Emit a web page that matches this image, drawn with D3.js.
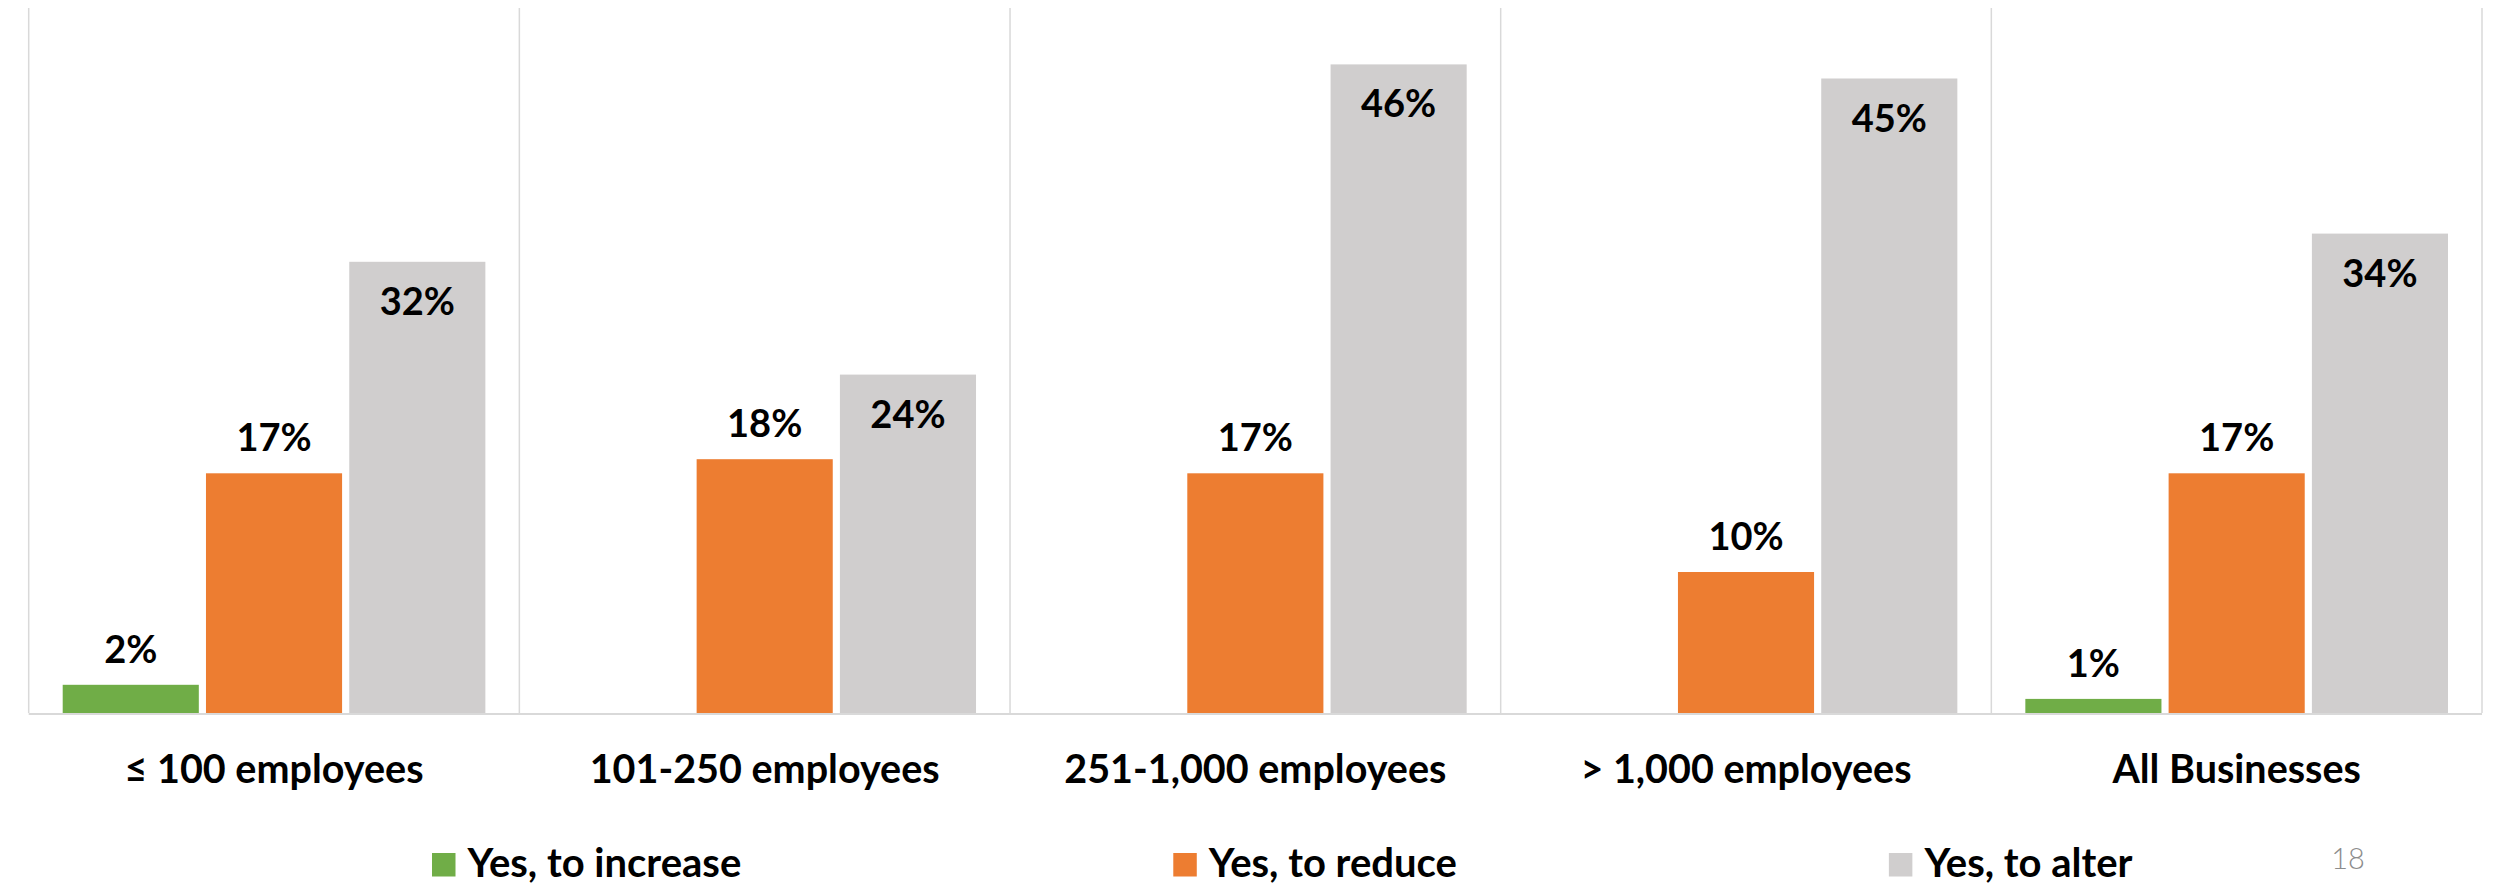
<!DOCTYPE html>
<html>
<head>
<meta charset="utf-8">
<script src="https://cdn.jsdelivr.net/npm/d3@7"></script>
<style>
  html, body { margin: 0; padding: 0; background: #ffffff; }
  svg { display: block; }
  text { font-family: Lato, "Open Sans", "DejaVu Sans", sans-serif; }
</style>
</head>
<body>
<svg id="chart"></svg>
<script>
// Business size groups along the x axis
const categories = ["≤ 100 employees", "101-250 employees", "251-1,000 employees", "> 1,000 employees", "All Businesses"];

// Series (legend order)
const seriesNames = ["Yes, to increase", "Yes, to reduce", "Yes, to alter"];

// Percentages per group; null = no response shown
const increaseValues = [2, null, null, null, 1];
const reduceValues = [17, 18, 17, 10, 17];
const alterValues = [32, 24, 46, 45, 34];

const seriesColors = ["#70ad47", "#ed7d31", "#d0cece"];

const yMax = 50;
const pageNumber = "18";

const W = 2503, H = 887;
const plot = { left: 28.7, right: 2482, top: 8, bottom: 713 };

const svg = d3.select("#chart").attr("width", W).attr("height", H);

const seriesValues = [increaseValues, reduceValues, alterValues];

const x = d3.scaleBand()
  .domain(categories)
  .range([plot.left, plot.right])
  .padding(0);

const groupPad = 34;
const xInner = d3.scaleBand()
  .domain(seriesNames)
  .range([groupPad, x.bandwidth() - groupPad])
  .paddingInner(0.05)
  .paddingOuter(0);

const y = d3.scaleLinear()
  .domain([0, yMax])
  .range([plot.bottom, plot.top]);

// Vertical separators between groups
const sepX = categories.map(c => x(c)).concat([plot.right]);
svg.append("g")
  .selectAll("line")
  .data(sepX)
  .join("line")
  .attr("x1", d => d).attr("x2", d => d)
  .attr("y1", plot.top).attr("y2", plot.bottom)
  .attr("stroke", "#d9d9d9")
  .attr("stroke-width", 1.5);

// Bars
const barData = [];
categories.forEach((c, ci) => {
  seriesNames.forEach((s, si) => {
    const v = seriesValues[si][ci];
    if (v !== null && v !== undefined) {
      barData.push({ category: c, series: s, si, value: v });
    }
  });
});

svg.append("g")
  .selectAll("rect")
  .data(barData)
  .join("rect")
  .attr("x", d => x(d.category) + xInner(d.series))
  .attr("y", d => y(d.value))
  .attr("width", xInner.bandwidth())
  .attr("height", d => y(0) - y(d.value))
  .attr("fill", d => seriesColors[d.si]);

// Baseline
svg.append("line")
  .attr("x1", plot.left).attr("x2", plot.right)
  .attr("y1", y(0) + 1).attr("y2", y(0) + 1)
  .attr("stroke", "#d9d9d9")
  .attr("stroke-width", 2);

// Value labels: above the bar for the first two series, inside the top for the last
svg.append("g")
  .selectAll("text")
  .data(barData)
  .join("text")
  .attr("x", d => x(d.category) + xInner(d.series) + xInner.bandwidth() / 2)
  .attr("y", d => d.si === 2 ? y(d.value) + 53 : y(d.value) - 22)
  .attr("text-anchor", "middle")
  .attr("font-size", 38)
  .attr("font-weight", 700)
  .attr("fill", "#000")
  .text(d => d.value + "%");

// Category labels
svg.append("g")
  .selectAll("text")
  .data(categories)
  .join("text")
  .attr("x", d => x(d) + x.bandwidth() / 2)
  .attr("y", 783)
  .attr("text-anchor", "middle")
  .attr("font-size", 39.5)
  .attr("font-weight", 700)
  .attr("fill", "#000")
  .text(d => d);

// Legend
const legend = svg.append("g");
let lx = 432;
const legendGap = 432;
const legendBase = 876.5;
seriesNames.forEach((s, i) => {
  const g = legend.append("g").attr("transform", `translate(${lx},0)`);
  g.append("rect")
    .attr("x", 0).attr("y", legendBase - 23.5)
    .attr("width", 23.5).attr("height", 23.5)
    .attr("fill", seriesColors[i]);
  const t = g.append("text")
    .attr("x", 35.5).attr("y", legendBase)
    .attr("font-size", 40)
    .attr("font-weight", 700)
    .attr("fill", "#000")
    .text(s);
  const tw = t.node().getComputedTextLength();
  lx += 35.5 + tw + legendGap;
});

// Page number
svg.append("text")
  .attr("x", 2348).attr("y", 869)
  .attr("text-anchor", "middle")
  .attr("font-size", 29)
  .attr("font-weight", 300)
  .attr("fill", "#8c8c8c")
  .text(pageNumber);
</script>
</body>
</html>
